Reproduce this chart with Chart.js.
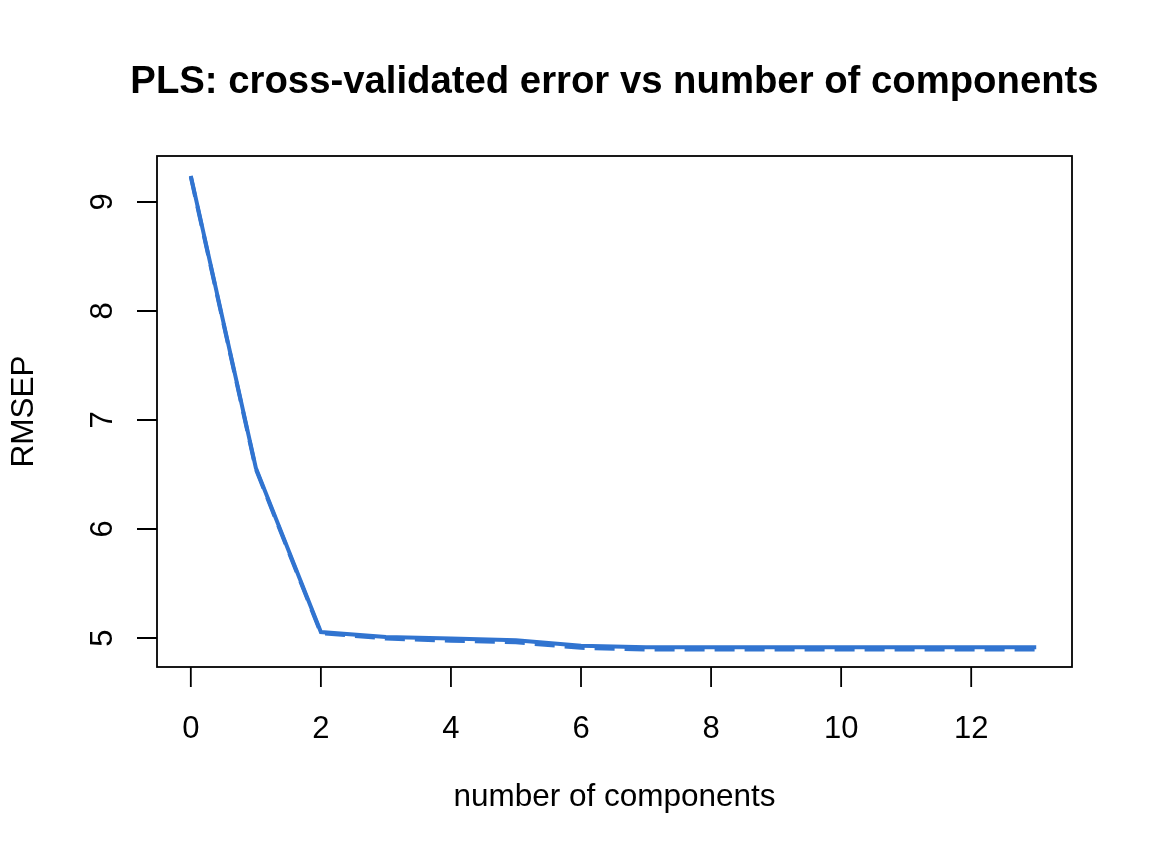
<!DOCTYPE html>
<html>
<head>
<meta charset="utf-8">
<script src="https://cdn.jsdelivr.net/npm/chart.js@4.4.1/dist/chart.umd.min.js"></script>
<style>
    html, body { margin: 0; padding: 0; background: #fff; }
    #wrap { width: 1152px; height: 864px; }
</style>
</head>
<body>
<div id="wrap"><canvas id="myChart" width="1152" height="864"></canvas></div>
<script>
const components = [0, 1, 2, 3, 4, 5, 6, 7, 8, 9, 10, 11, 12, 13];
const cvError = [9.24, 6.56, 5.055, 5.01, 4.995, 4.98, 4.93, 4.915, 4.915, 4.915, 4.915, 4.915, 4.915, 4.915];
const adjCvError = [9.23, 6.55, 5.045, 4.995, 4.975, 4.96, 4.91, 4.895, 4.895, 4.895, 4.895, 4.895, 4.895, 4.895];
const xTicks = [0, 2, 4, 6, 8, 10, 12];
const yTicks = [5, 6, 7, 8, 9];

const lineColor = '#3174D0';
const fontFamily = '"Liberation Sans", Arial, Helvetica, sans-serif';

// R-style box, ticks and labels drawn on top of the chart area
const baseAxes = {
    id: 'baseAxes',
    afterDraw(chart) {
        const ctx = chart.ctx;
        const area = chart.chartArea;
        const xs = chart.scales.x;
        const ys = chart.scales.y;
        ctx.save();
        ctx.strokeStyle = '#000';
        ctx.lineWidth = 1.8;
        ctx.strokeRect(area.left, area.top, area.right - area.left, area.bottom - area.top);

        // ticks hang off the box
        ctx.beginPath();
        xTicks.forEach(function (v) {
            const px = xs.getPixelForValue(v);
            ctx.moveTo(px, area.bottom);
            ctx.lineTo(px, area.bottom + 20);
        });
        yTicks.forEach(function (v) {
            const py = ys.getPixelForValue(v);
            ctx.moveTo(area.left, py);
            ctx.lineTo(area.left - 20, py);
        });
        ctx.stroke();

        ctx.fillStyle = '#000';
        ctx.font = '31px ' + fontFamily;
        ctx.textAlign = 'center';
        ctx.textBaseline = 'alphabetic';
        xTicks.forEach(function (v) {
            ctx.fillText(String(v), xs.getPixelForValue(v), 738);
        });
        yTicks.forEach(function (v) {
            ctx.save();
            ctx.translate(112, ys.getPixelForValue(v));
            ctx.rotate(-Math.PI / 2);
            ctx.fillText(String(v), 0, 0);
            ctx.restore();
        });

        // axis titles
        const midX = (area.left + area.right) / 2;
        const midY = (area.top + area.bottom) / 2;
        ctx.font = '31.5px ' + fontFamily;
        ctx.fillText('number of components', midX, 806);
        ctx.save();
        ctx.translate(33, midY);
        ctx.rotate(-Math.PI / 2);
        ctx.fillText('RMSEP', 0, 0);
        ctx.restore();

        // main title
        ctx.font = 'bold 38.3px ' + fontFamily;
        ctx.fillText('PLS: cross-validated error vs number of components', midX, 93);
        ctx.restore();
    }
};

const ctx = document.getElementById('myChart').getContext('2d');
const chart = new Chart(ctx, {
    type: 'line',
    data: {
        labels: components,
        datasets: [{
            label: 'CV',
            data: components.map((c, i) => ({ x: c, y: cvError[i] })),
            borderColor: lineColor,
            borderWidth: 4,
            pointRadius: 0,
            fill: false,
            tension: 0
        }, {
            label: 'adjCV',
            data: components.map((c, i) => ({ x: c, y: adjCvError[i] })),
            borderColor: lineColor,
            borderWidth: 4,
            borderDash: [20, 10],
            pointRadius: 0,
            fill: false,
            tension: 0
        }]
    },
    options: {
        responsive: false,
        animation: false,
        layout: {
            padding: { left: 157, right: 80, top: 156, bottom: 197 }
        },
        scales: {
            x: { type: 'linear', min: -0.52, max: 13.55, display: false },
            y: { type: 'linear', min: 4.734, max: 9.422, display: false }
        },
        plugins: {
            legend: { display: false },
            tooltip: { enabled: false },
            title: { display: false }
        }
    },
    plugins: [baseAxes]
});
</script>
</body>
</html>
